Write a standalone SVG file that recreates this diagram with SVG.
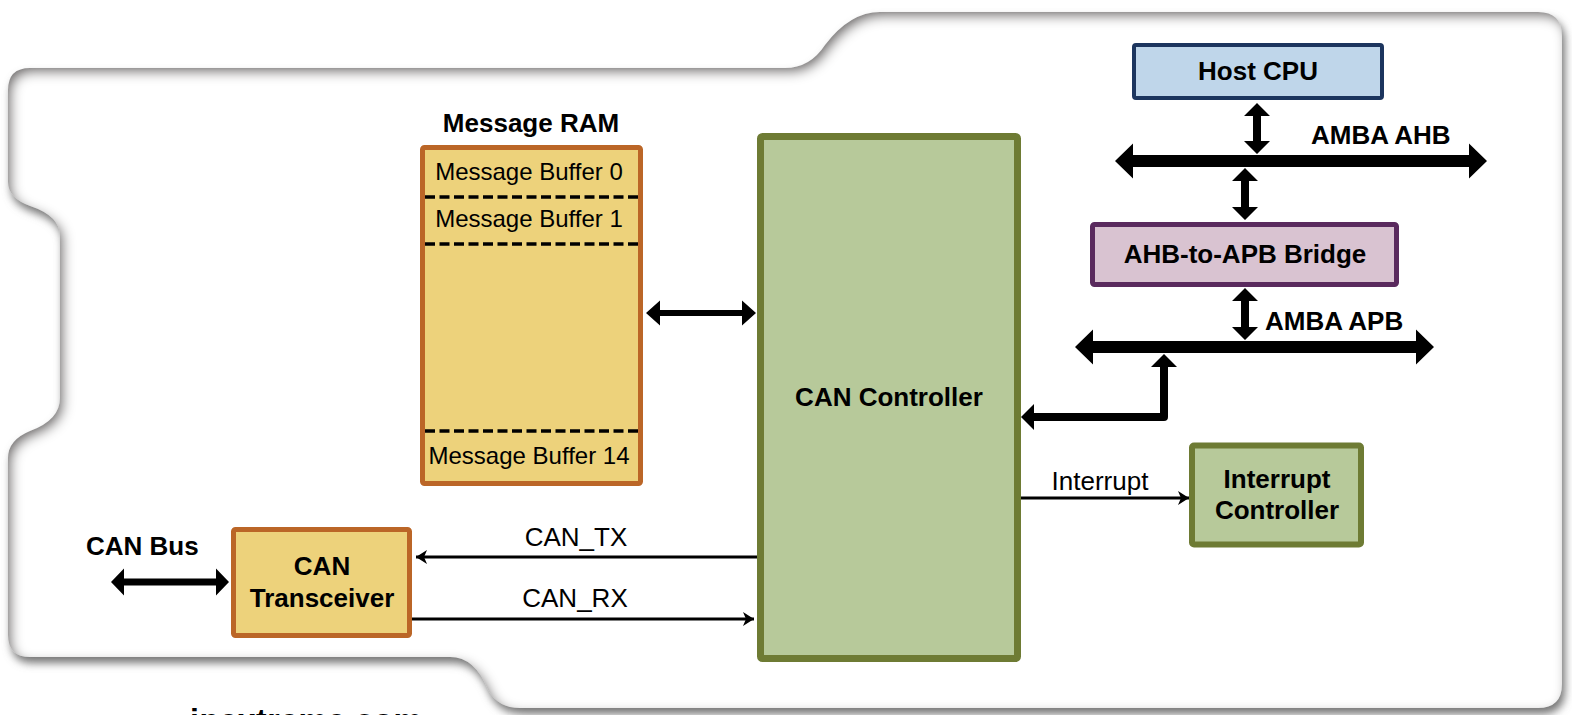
<svg xmlns="http://www.w3.org/2000/svg" width="1572" height="715" viewBox="0 0 1572 715">
<style>
text{font-family:"Liberation Sans",Arial,sans-serif;fill:#000}
.b{font-weight:bold;font-size:26px}
.r{font-size:26px}
.mb{font-size:24px}
.c{text-anchor:middle}
.ram{fill:#edd27b;stroke:#bb6627;stroke-width:5}
.grn{fill:#b7c99a;stroke:#6e7b34;stroke-width:7}
.dash{stroke:#000;stroke-width:3.5;stroke-dasharray:10 4.5;fill:none}
.thin{stroke:#000;stroke-width:3;fill:none}
.thick{fill:#000}
</style>
<defs>
<path id="shape" d="M8,90 Q8,68 30,68 L785,68 Q810,68 825,45 Q850,12 880,12 L1538,12 Q1562,12 1562,36 L1562,684 Q1562,708 1538,708 L520,708 Q498,708 488,690 Q475,657 450,657 L30,657 Q8,657 8,635 L8,458 Q8,440 30,431 Q60,420 60,398 L60,236 Q60,216 30,206 Q8,198 8,182 Z"/>
<filter id="drop" x="-5%" y="-5%" width="110%" height="115%">
<feGaussianBlur in="SourceAlpha" stdDeviation="4"/>
<feOffset dx="3" dy="6" result="o"/>
<feFlood flood-color="#767676"/>
<feComposite in2="o" operator="in"/>
</filter>
<filter id="inner" x="-5%" y="-5%" width="110%" height="115%">
<feFlood flood-color="#6e6a6a" result="f"/>
<feComposite in="f" in2="SourceAlpha" operator="out"/>
<feGaussianBlur stdDeviation="6"/>
<feOffset dx="4" dy="5"/>
<feComposite in2="SourceAlpha" operator="in" result="s"/>
<feMerge><feMergeNode in="SourceGraphic"/><feMergeNode in="s"/></feMerge>
</filter>
<marker id="ah" markerWidth="12" markerHeight="14" refX="11" refY="7" orient="auto" markerUnits="userSpaceOnUse">
<path d="M0,0 L11,7 L0,14 L3,7 Z" fill="#000"/>
</marker>
</defs>
<g id="panel">
<use href="#shape" fill="#6f6f6f" filter="url(#drop)"/>
<use href="#shape" fill="#ffffff" filter="url(#inner)"/>
</g>
<text x="190" y="731" textLength="232" lengthAdjust="spacing" style="font-weight:bold;font-size:32px">ipextreme.com</text>
<g id="message-ram">
<text class="b c" x="531" y="132">Message RAM</text>
<rect class="ram" x="422.5" y="147.5" width="218" height="336" rx="2"/>
<line class="dash" x1="425" y1="197" x2="638" y2="197"/>
<line class="dash" x1="425" y1="244" x2="638" y2="244"/>
<line class="dash" x1="425" y1="431" x2="638" y2="431"/>
<text class="mb c" x="529" y="180">Message Buffer 0</text>
<text class="mb c" x="529" y="227">Message Buffer 1</text>
<text class="mb c" x="529" y="464">Message Buffer 14</text>
</g>
<g id="can-controller">
<rect class="grn" x="760.5" y="136.5" width="257" height="522" rx="2"/>
<text class="b c" x="889" y="406">CAN Controller</text>
</g>
<g id="host-cpu">
<rect x="1134" y="45" width="248" height="53" rx="2" fill="#bfd6ea" stroke="#1c355e" stroke-width="4"/>
<text class="b c" x="1258" y="80">Host CPU</text>
</g>
<g id="bridge">
<rect x="1092.5" y="224.5" width="304" height="60" rx="2" fill="#d9c3d1" stroke="#5a2a5e" stroke-width="5"/>
<text class="b c" x="1245" y="263">AHB-to-APB Bridge</text>
</g>
<g id="interrupt-controller">
<rect class="grn" x="1192" y="445.5" width="169" height="99" rx="2" style="stroke-width:6"/>
<text class="b c" x="1277" y="488">Interrupt</text>
<text class="b c" x="1277" y="519">Controller</text>
</g>
<g id="can-transceiver">
<rect class="ram" x="233.5" y="529.5" width="176" height="106" rx="2"/>
<text class="b c" x="322" y="575">CAN</text>
<text class="b c" x="322" y="607">Transceiver</text>
</g>
<g id="labels">
<text class="b" x="86" y="555">CAN Bus</text>
<text class="b" x="1311" y="144">AMBA AHB</text>
<text class="b" x="1265" y="330">AMBA APB</text>
<text class="r c" x="576" y="546">CAN_TX</text>
<text class="r c" x="575" y="607">CAN_RX</text>
<text class="r c" x="1100" y="490">Interrupt</text>
</g>
<g id="connectors">
<polygon class="thick" points="1115,161 1133,143.5 1133,155 1469,155 1469,143.5 1487,161 1469,178.5 1469,167 1133,167 1133,178.5"/>
<polygon class="thick" points="1075,347 1093,329.5 1093,341 1416,341 1416,329.5 1434,347 1416,364.5 1416,353 1093,353 1093,364.5"/>
<polygon class="thick" points="1257,103 1270,116 1261,116 1261,141 1270,141 1257,154 1244,141 1253,141 1253,116 1244,116"/>
<polygon class="thick" points="1245,168 1258,181 1249,181 1249,207 1258,207 1245,220 1232,207 1241,207 1241,181 1232,181"/>
<polygon class="thick" points="1245,288 1258,301 1249,301 1249,327 1258,327 1245,340 1232,327 1241,327 1241,301 1232,301"/>
<path d="M1164,366 V417 H1034" stroke="#000" stroke-width="8" fill="none" stroke-linejoin="round"/>
<polygon class="thick" points="1164,354 1177,367 1151,367"/>
<polygon class="thick" points="1021,417 1034,404 1034,430"/>
<polygon class="thick" points="646,313 660,300.5 660,310 742,310 742,300.5 756,313 742,325.5 742,316 660,316 660,325.5"/>
<polygon class="thick" points="111,582 124,568.5 124,578.5 216,578.5 216,568.5 229,582 216,595.5 216,585.5 124,585.5 124,595.5"/>
<line class="thin" x1="757" y1="557" x2="416" y2="557" marker-end="url(#ah)"/>
<line class="thin" x1="412" y1="619" x2="754" y2="619" marker-end="url(#ah)"/>
<line class="thin" x1="1021" y1="498" x2="1189" y2="498" marker-end="url(#ah)"/>
</g>
</svg>
